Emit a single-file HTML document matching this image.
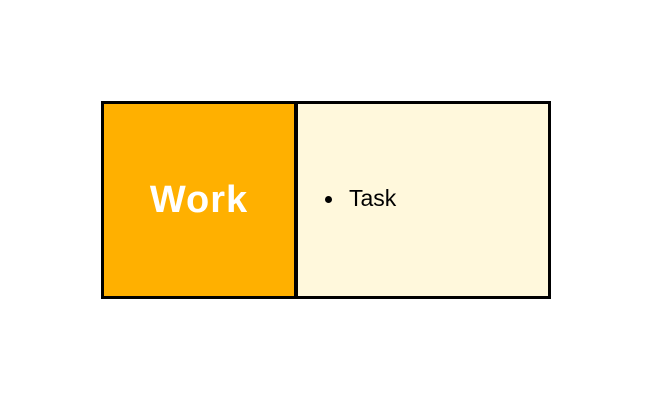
<!DOCTYPE html>
<html><head><style>
body{margin:0;width:652px;height:400px;background:#fff;position:relative;overflow:hidden;font-family:"Liberation Sans",sans-serif}
.l{position:absolute;left:101px;top:101px;width:190px;height:192px;border:3px solid #000;background:#FFB000;display:flex;align-items:center;justify-content:center;color:#fff;font-weight:bold;font-size:38px;letter-spacing:1px;z-index:1}
.r{position:absolute;left:295px;top:101px;width:250px;height:192px;border:3px solid #000;background:#FFF8DC}
.t{position:absolute;left:349px;top:185px;font-size:23px;color:#000}
.d{position:absolute;left:325px;top:196px;width:7px;height:7px;border-radius:50%;background:#000}
</style></head><body>
<div class="l">Work</div>
<div class="r"></div>
<div class="d"></div>
<div class="t">Task</div>
</body></html>
